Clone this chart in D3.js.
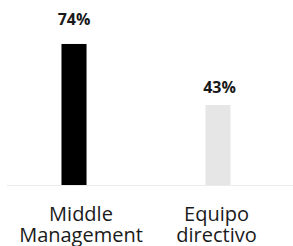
<!DOCTYPE html>
<html>
<head>
<meta charset="utf-8">
<script src="https://cdn.jsdelivr.net/npm/d3@7"></script>
<style>
  html, body { margin: 0; padding: 0; background: #fff; }
  svg { display: block; }
</style>
</head>
<body>
<svg id="chart"></svg>
<script>
const categories = ["Middle Management", "Equipo directivo"];
const labelLines = [["Middle", "Management"], ["Equipo", "directivo"]];
const values = [74, 43];
const barColors = ["#000000", "#e6e6e6"];

const width = 293, height = 246;
const baseline = 185;

const svg = d3.select("#chart")
  .attr("width", width)
  .attr("height", height)
  .attr("viewBox", [0, 0, width, height]);

const x = d3.scaleBand()
  .domain(categories)
  .range([0, 292])
  .paddingInner(0.826)
  .paddingOuter(0.427);

// tick labels sit a little off the bar centres in the original
const xLabel = d3.scalePoint()
  .domain(categories)
  .range([81, 216.5]);

const y = d3.scaleLinear()
  .domain([0, 100])
  .range([189.6, -7.2]);

const yLabel = d3.scaleLinear()
  .domain([0, 100])
  .range([187.3, -32.1]);

// baseline
svg.append("line")
  .attr("x1", 7)
  .attr("x2", width)
  .attr("y1", baseline + 0.5)
  .attr("y2", baseline + 0.5)
  .attr("stroke", "#ebebeb")
  .attr("stroke-width", 1);

svg.append("g")
  .selectAll("rect")
  .data(values)
  .join("rect")
  .attr("x", (d, i) => x(categories[i]))
  .attr("y", d => y(d))
  .attr("width", x.bandwidth())
  .attr("height", d => baseline - y(d))
  .attr("fill", (d, i) => barColors[i]);

svg.append("g")
  .attr("font-family", "'Open Sans', sans-serif")
  .attr("font-weight", 700)
  .attr("font-size", 16)
  .attr("fill", "#1a1a1a")
  .attr("text-anchor", "middle")
  .selectAll("text")
  .data(values)
  .join("text")
  .attr("x", (d, i) => x(categories[i]) + x.bandwidth() / 2 + (i ? 1.5 : 0))
  .attr("y", d => yLabel(d))
  .text(d => d + "%");

const ticks = svg.append("g")
  .attr("font-family", "'Open Sans', sans-serif")
  .attr("font-size", 20)
  .attr("fill", "#1a1a1a")
  .attr("text-anchor", "middle")
  .selectAll("text")
  .data(categories)
  .join("text")
  .attr("x", d => xLabel(d));

ticks.selectAll("tspan")
  .data((d, i) => labelLines[i])
  .join("tspan")
  .attr("x", function() { return this.parentNode.getAttribute("x"); })
  .attr("y", (d, j) => 220.5 + j * 21.5)
  .text(d => d);
</script>
</body>
</html>
